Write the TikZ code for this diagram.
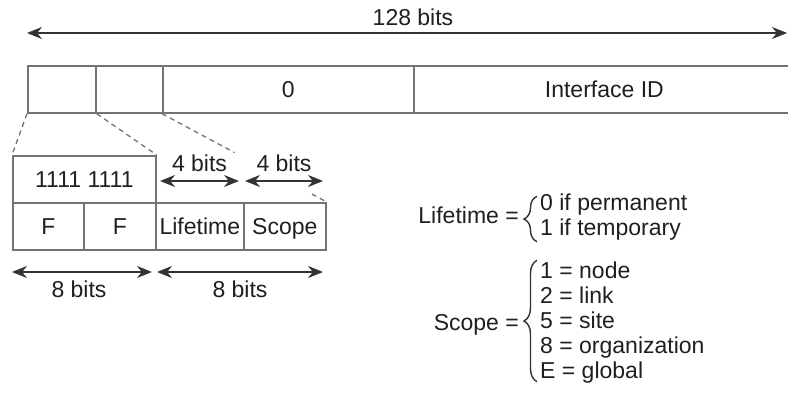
\documentclass[tikz,border=0pt]{standalone}
\usepackage{fontspec}
\setmainfont{Liberation Sans}
\usetikzlibrary{arrows.meta,calc,decorations.pathreplacing}
\begin{document}
\begin{tikzpicture}[x=1pt,y=-1pt,
  every node/.style={font=\fontsize{23}{25}\selectfont, text=black!88},
  cell/.style={draw=black!55, line width=1.7pt, rectangle, inner sep=0pt,
    anchor=north west, minimum height=47pt, text height=17pt, text depth=1.2pt},
  guide/.style={draw=black!55, line width=1.3pt, dash pattern=on 5pt off 4pt},
  dim/.style={draw=black!80, line width=1.6pt,
    {Stealth[length=15pt,width=12pt]}-{Stealth[length=15pt,width=12pt]}},
  lbl/.style={inner sep=0pt},
  curly/.style={draw=black!80, line width=1.4pt, decorate,
    decoration={brace, amplitude=13pt, aspect=0.5}}
]
\useasboundingbox (0,0) rectangle (788,396);

% overall width
\coordinate (tl) at (27,33);
\coordinate (tr) at (787,33);
\draw[dim] (tl) -- (tr);
\node[lbl] (t128) at (413,17.5) {128 bits};

% address row
\node[cell, minimum width=68pt] (c1) at (27,65) {};
\node[cell, minimum width=67pt] (c2) at (95,65) {};
\node[cell, minimum width=251pt] (c3) at (162,65) {0};
\node[cell, minimum width=381pt] (c4) at (413,65) {Interface ID};

% expanded prefix
\node[cell, minimum width=143pt] (ff) at (12,155) {1111 1111};
\node[cell, minimum width=71pt] (f1) at (12,202) {F};
\node[cell, minimum width=72pt] (f2) at (83,202) {F};
\node[cell, minimum width=88pt] (lt) at (155,202) {Lifetime};
\node[cell, minimum width=82pt] (sc) at (243,202) {Scope};

% dashed guides
\draw[guide] (c1.south west) -- (ff.north west);
\draw[guide] (c1.south east) -- (ff.north east);
\draw[guide] (c3.south west) -- ($(c3.south west)!0.44!(sc.north east)$)
             ($(c3.south west)!0.91!(sc.north east)$) -- (sc.north east);

% 4 bits
\coordinate (a1l) at (160,181);
\coordinate (a1r) at (239,181);
\coordinate (a2l) at (245,181);
\coordinate (a2r) at (323,181);
\draw[dim] (a1l) -- (a1r);
\draw[dim] (a2l) -- (a2r);
\node[lbl] (b4a) at (199.5,163.5) {4 bits};
\node[lbl] (b4b) at (284,163.5) {4 bits};

% 8 bits
\coordinate (e1l) at (12,272);
\coordinate (e1r) at (152,272);
\coordinate (e2l) at (157,272);
\coordinate (e2r) at (323,272);
\draw[dim] (e1l) -- (e1r);
\draw[dim] (e2l) -- (e2r);
\node[lbl] (b8a) at (79,289.5) {8 bits};
\node[lbl] (b8b) at (240,289.5) {8 bits};

% definitions
\node[lbl, anchor=west] (lifeVals) at (540,217.5)
  {\begin{tabular}{@{}l@{}}0 if permanent\\1 if temporary\end{tabular}};
\node[lbl, anchor=base east] (lifeEq) at (519,223) {Lifetime =};
\draw[curly] ($(lifeVals.south west)+(-3,-1)$) -- ($(lifeVals.north west)+(-3,4)$);

\node[lbl, anchor=west] (scopeVals) at (540,323)
  {\begin{tabular}{@{}l@{}}1 = node\\2 = link\\5 = site\\8 = organization\\E = global\end{tabular}};
\node[lbl, anchor=base east] (scopeEq) at (519,330) {Scope =};
\draw[curly] ($(scopeVals.south west)+(-3,-4)$) -- ($(scopeVals.north west)+(-3,0)$);
\end{tikzpicture}
\end{document}
